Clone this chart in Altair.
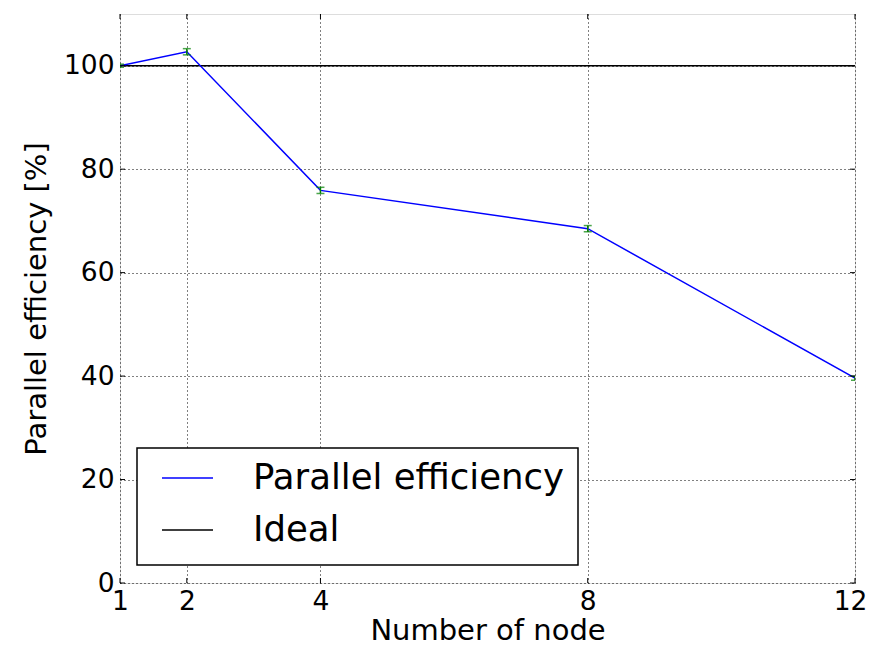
import altair as alt
import pandas as pd

nodes = [1, 2, 4, 8, 12]
efficiency = [100.0, 102.7, 75.9, 68.5, 39.6]
errors = [0.3, 0.6, 0.6, 0.6, 0.4]
ideal_value = 100
y_ticks = [0, 20, 40, 60, 80, 100]
legend_labels = ["Parallel efficiency", "Ideal"]

W, H = 735, 569
FONT = "DejaVu Sans"

df = pd.DataFrame({
    "node": nodes,
    "eff": efficiency,
    "lo": [e - s for e, s in zip(efficiency, errors)],
    "hi": [e + s for e, s in zip(efficiency, errors)],
})
ydf = pd.DataFrame({"yt": y_ticks})
one = pd.DataFrame({"k": [0]})

xs = alt.Scale(domain=[1, 12], nice=False, zero=False)
ys = alt.Scale(domain=[0, 110], nice=False)

x_axis = alt.Axis(values=nodes, format="d", title="Number of node", grid=True, gridDash=[1, 3],
                  gridColor="black", gridOpacity=1, gridWidth=1, ticks=False, domain=False,
                  labelFontSize=26.5, titleFontSize=29, labelPadding=5, titlePadding=2,
                  labelOffset={"condition": {"test": "datum.value == 12", "value": -5}, "value": 0},
                  labelColor="black", titleColor="black", labelFont=FONT, titleFont=FONT,
                  titleFontWeight="normal", labelFlush=False, labelOverlap=False)
y_axis = alt.Axis(values=y_ticks, format="d", title="Parallel efficiency [%]", grid=True, gridDash=[1, 3],
                  gridColor="black", gridOpacity=1, gridWidth=1, ticks=False, domain=False,
                  labelFontSize=26.5, titleFontSize=29, labelPadding=6, titlePadding=12,
                  labelColor="black", titleColor="black", labelFont=FONT, titleFont=FONT,
                  titleFontWeight="normal", labelFlush=False, labelOverlap=False)

base = alt.Chart(df)

grid = base.mark_point(opacity=0).encode(
    x=alt.X("node:Q", scale=xs, axis=x_axis),
    y=alt.Y("eff:Q", scale=ys, axis=y_axis),
)

ideal = alt.Chart(one).mark_rule(color="black", strokeWidth=1.5).encode(
    y=alt.datum(ideal_value, scale=ys)
)

line = base.mark_line(color="#0000ff", strokeWidth=1.5, clip=True).encode(
    x=alt.X("node:Q", scale=xs), y=alt.Y("eff:Q", scale=ys)
)

err_rule = base.mark_rule(color="#008000", strokeWidth=1.5, clip=True).encode(
    x=alt.X("node:Q", scale=xs), y=alt.Y("lo:Q", scale=ys), y2="hi:Q"
)
cap_hi = base.mark_tick(color="#008000", orient="horizontal", size=8, thickness=1.5, clip=True).encode(
    x=alt.X("node:Q", scale=xs), y=alt.Y("hi:Q", scale=ys)
)
cap_lo = base.mark_tick(color="#008000", orient="horizontal", size=8, thickness=1.5, clip=True).encode(
    x=alt.X("node:Q", scale=xs), y=alt.Y("lo:Q", scale=ys)
)

tk = dict(color="black", strokeWidth=1)
tick_bottom = base.mark_rule(**tk).encode(x=alt.X("node:Q", scale=xs), y=alt.value(H), y2=alt.value(H - 5))
tick_top = base.mark_rule(**tk).encode(x=alt.X("node:Q", scale=xs), y=alt.value(0), y2=alt.value(5))
tick_left = alt.Chart(ydf).mark_rule(**tk).encode(y=alt.Y("yt:Q", scale=ys), x=alt.value(0), x2=alt.value(5))
tick_right = alt.Chart(ydf).mark_rule(**tk).encode(y=alt.Y("yt:Q", scale=ys), x=alt.value(W), x2=alt.value(W - 5))

leg_box = alt.Chart(one).mark_rect(fill="white", stroke="black", strokeWidth=1.5).encode(
    x=alt.value(17), x2=alt.value(458), y=alt.value(434), y2=alt.value(551)
)
leg_l1 = alt.Chart(one).mark_rule(color="#0000ff", strokeWidth=1.5).encode(
    x=alt.value(42), x2=alt.value(93), y=alt.value(464)
)
leg_l2 = alt.Chart(one).mark_rule(color="black", strokeWidth=1.5).encode(
    x=alt.value(42), x2=alt.value(93), y=alt.value(516)
)
leg_t1 = alt.Chart(pd.DataFrame({"label": [legend_labels[0]]})).mark_text(
    align="left", baseline="middle", fontSize=35.5, font=FONT, color="black"
).encode(text="label:N", x=alt.value(133), y=alt.value(464))
leg_t2 = alt.Chart(pd.DataFrame({"label": [legend_labels[1]]})).mark_text(
    align="left", baseline="middle", fontSize=35.5, font=FONT, color="black"
).encode(text="label:N", x=alt.value(133), y=alt.value(516))

chart = alt.layer(
    grid, ideal, line, err_rule, cap_hi, cap_lo,
    tick_bottom, tick_top, tick_left, tick_right,
    leg_box, leg_l1, leg_l2, leg_t1, leg_t2,
).properties(
    width=W, height=H,
    autosize=alt.AutoSizeParams(type="none"),
    padding={"left": 112, "top": 6, "right": 12, "bottom": 59},
).configure_view(stroke="black", strokeWidth=1.5).configure(background="white")

chart.save("out.html", embed_options={"renderer": "svg", "actions": False})
